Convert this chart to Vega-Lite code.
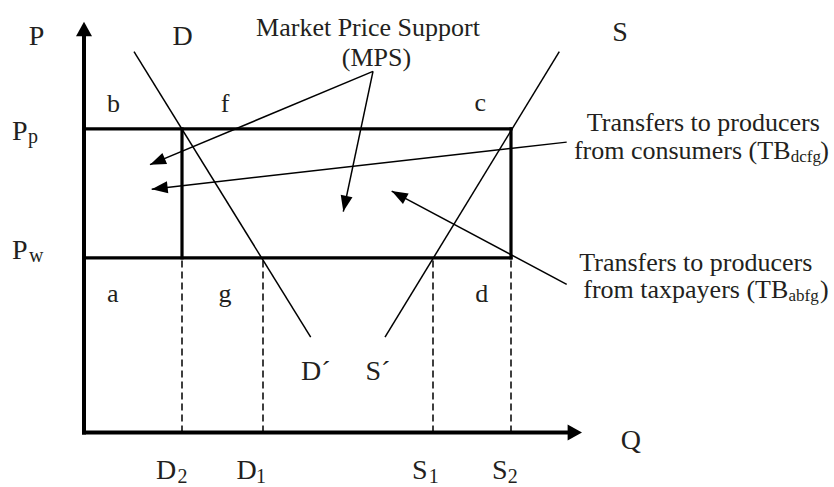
{
  "$schema": "https://vega.github.io/schema/vega-lite/v6.json",
  "width": 834,
  "height": 487,
  "autosize": {"type": "fit", "contains": "padding"},
  "padding": 0,
  "background": "white",
  "config": {"view": {"stroke": null}, "text": {"font": "'Liberation Serif', 'Times New Roman', 'DejaVu Serif', serif"}},
  "datasets": {
    "axes": [
      {"seg": "P axis", "i": 0, "x": 0, "y": 0},
      {"seg": "P axis", "i": 1, "x": 0, "y": 400},
      {"seg": "Q axis", "i": 0, "x": 0, "y": 0},
      {"seg": "Q axis", "i": 1, "x": 484, "y": 0}
    ],
    "box": [
      {"seg": "Pp", "i": 0, "x": 0, "y": 306},
      {"seg": "Pp", "i": 1, "x": 427, "y": 306},
      {"seg": "Pw", "i": 0, "x": 0, "y": 176},
      {"seg": "Pw", "i": 1, "x": 427, "y": 176},
      {"seg": "S2 side", "i": 0, "x": 427, "y": 176},
      {"seg": "S2 side", "i": 1, "x": 427, "y": 306},
      {"seg": "D2 side", "i": 0, "x": 98, "y": 176},
      {"seg": "D2 side", "i": 1, "x": 98, "y": 306}
    ],
    "drops": [
      {"seg": "D2", "i": 0, "x": 98, "y": 0},
      {"seg": "D2", "i": 1, "x": 98, "y": 176},
      {"seg": "D1", "i": 0, "x": 179, "y": 0},
      {"seg": "D1", "i": 1, "x": 179, "y": 176},
      {"seg": "S1", "i": 0, "x": 349, "y": 0},
      {"seg": "S1", "i": 1, "x": 349, "y": 176},
      {"seg": "S2", "i": 0, "x": 427, "y": 0},
      {"seg": "S2", "i": 1, "x": 427, "y": 176}
    ],
    "curves": [
      {"seg": "Demand", "i": 0, "x": 50, "y": 384},
      {"seg": "Demand", "i": 1, "x": 226.7, "y": 96},
      {"seg": "Supply", "i": 0, "x": 475.3, "y": 384},
      {"seg": "Supply", "i": 1, "x": 301, "y": 96}
    ],
    "arrows": [
      {"seg": "MPS 1", "i": 0, "x": 289, "y": 364},
      {"seg": "MPS 1", "i": 1, "x": 66, "y": 270},
      {"seg": "MPS 2", "i": 0, "x": 289, "y": 364},
      {"seg": "MPS 2", "i": 1, "x": 259.3, "y": 222.7},
      {"seg": "Consumers", "i": 0, "x": 482.7, "y": 292.7},
      {"seg": "Consumers", "i": 1, "x": 67.7, "y": 245.3},
      {"seg": "Taxpayers", "i": 0, "x": 482.7, "y": 149.3},
      {"seg": "Taxpayers", "i": 1, "x": 307.7, "y": 243.3}
    ],
    "heads": [
      {"seg": "MPS 1", "x": 66, "y": 270, "dir": 247.1},
      {"seg": "MPS 2", "x": 259.3, "y": 222.7, "dir": 191.9},
      {"seg": "Consumers", "x": 67.7, "y": 245.3, "dir": 263.5},
      {"seg": "Taxpayers", "x": 307.7, "y": 243.3, "dir": 298.2}
    ],
    "axisHeads": [
      {"seg": "P axis", "x": 0, "y": 414, "dir": 0},
      {"seg": "Q axis", "x": 498, "y": 0, "dir": 90}
    ],
    "bigLabels": [
      {"t": "P", "x": -47.5, "y": 391},
      {"t": "D", "x": 98.5, "y": 391},
      {"t": "S", "x": 536, "y": 395},
      {"t": "P", "x": -64.1, "y": 295},
      {"t": "P", "x": -64.1, "y": 175.3},
      {"t": "Q", "x": 546.8, "y": -17},
      {"t": "D", "x": 82, "y": -47},
      {"t": "D", "x": 162.5, "y": -47},
      {"t": "S", "x": 335.7, "y": -47},
      {"t": "S", "x": 415.7, "y": -47},
      {"t": "D´", "x": 231.8, "y": 53},
      {"t": "S´", "x": 293.9, "y": 53}
    ],
    "subLabels": [
      {"t": "p", "x": -51, "y": 292},
      {"t": "w", "x": -47.7, "y": 172},
      {"t": "2", "x": 98.5, "y": -51},
      {"t": "1", "x": 177, "y": -51},
      {"t": "1", "x": 349.7, "y": -51},
      {"t": "2", "x": 428.8, "y": -51}
    ],
    "areaLetters": [
      {"t": "b", "x": 29.5, "y": 322.7},
      {"t": "f", "x": 141, "y": 322.7},
      {"t": "c", "x": 396.3, "y": 324},
      {"t": "a", "x": 28.8, "y": 131},
      {"t": "g", "x": 141, "y": 131},
      {"t": "d", "x": 397.7, "y": 132}
    ],
    "notes": [
      {"t": "Market Price Support", "x": 284, "y": 399.3},
      {"t": "(MPS)", "x": 292.5, "y": 369.3},
      {"t": "Transfers to producers", "x": 619.3, "y": 304.3},
      {"t": "Transfers to producers", "x": 611.8, "y": 162.7}
    ],
    "notesRight": [
      {"t": "from consumers (TB", "x": 706.5, "y": 275.5},
      {"t": "from taxpayers (TB", "x": 704.3, "y": 135.5}
    ],
    "notesSub": [
      {"t": "dcfg", "x": 706.7, "y": 272.5},
      {"t": "abfg", "x": 704.5, "y": 132.5}
    ],
    "notesClose": [
      {"t": ")", "x": 736.3, "y": 275.5},
      {"t": ")", "x": 736, "y": 135.5}
    ]
  },
  "encoding": {
    "x": {"field": "x", "type": "quantitative", "axis": null,
          "scale": {"domain": [-84, 750], "nice": false, "zero": false}},
    "y": {"field": "y", "type": "quantitative", "axis": null,
          "scale": {"domain": [-51, 436], "nice": false, "zero": false}}
  },
  "layer": [
    {"data": {"name": "axes"},
     "mark": {"type": "line", "color": "black", "strokeWidth": 4, "strokeCap": "square"},
     "encoding": {"detail": {"field": "seg"}, "order": {"field": "i"}}},
    {"data": {"name": "box"},
     "mark": {"type": "line", "color": "black", "strokeWidth": 3.2, "strokeCap": "square"},
     "encoding": {"detail": {"field": "seg"}, "order": {"field": "i"}}},
    {"data": {"name": "drops"},
     "mark": {"type": "line", "color": "black", "strokeWidth": 1.5, "strokeDash": [7, 4]},
     "encoding": {"detail": {"field": "seg"}, "order": {"field": "i"}}},
    {"data": {"name": "curves"},
     "mark": {"type": "line", "color": "black", "strokeWidth": 1.5},
     "encoding": {"detail": {"field": "seg"}, "order": {"field": "i"}}},
    {"data": {"name": "arrows"},
     "mark": {"type": "line", "color": "black", "strokeWidth": 1.5},
     "encoding": {"detail": {"field": "seg"}, "order": {"field": "i"}}},
    {"data": {"name": "heads"},
     "mark": {"type": "point", "shape": "M0,0L1.5,4L-1.5,4Z", "size": 64, "filled": true, "color": "black", "opacity": 1},
     "encoding": {"angle": {"field": "dir", "type": "quantitative", "scale": null}}},
    {"data": {"name": "axisHeads"},
     "mark": {"type": "point", "shape": "M0,0L2,3.6L-2,3.6Z", "size": 64, "filled": true, "color": "black", "opacity": 1},
     "encoding": {"angle": {"field": "dir", "type": "quantitative", "scale": null}}},
    {"data": {"name": "bigLabels"},
     "mark": {"type": "text", "fontSize": 28, "align": "center", "baseline": "alphabetic", "color": "#231f20"},
     "encoding": {"text": {"field": "t"}}},
    {"data": {"name": "subLabels"},
     "mark": {"type": "text", "fontSize": 20, "align": "center", "baseline": "alphabetic", "color": "#231f20"},
     "encoding": {"text": {"field": "t"}}},
    {"data": {"name": "areaLetters"},
     "mark": {"type": "text", "fontSize": 26, "align": "center", "baseline": "alphabetic", "color": "#231f20"},
     "encoding": {"text": {"field": "t"}}},
    {"data": {"name": "notes"},
     "mark": {"type": "text", "fontSize": 26, "align": "center", "baseline": "alphabetic", "color": "#231f20"},
     "encoding": {"text": {"field": "t"}}},
    {"data": {"name": "notesRight"},
     "mark": {"type": "text", "fontSize": 26, "align": "right", "baseline": "alphabetic", "color": "#231f20"},
     "encoding": {"text": {"field": "t"}}},
    {"data": {"name": "notesSub"},
     "mark": {"type": "text", "fontSize": 17, "align": "left", "baseline": "alphabetic", "color": "#231f20"},
     "encoding": {"text": {"field": "t"}}},
    {"data": {"name": "notesClose"},
     "mark": {"type": "text", "fontSize": 26, "align": "left", "baseline": "alphabetic", "color": "#231f20"},
     "encoding": {"text": {"field": "t"}}}
  ]
}
